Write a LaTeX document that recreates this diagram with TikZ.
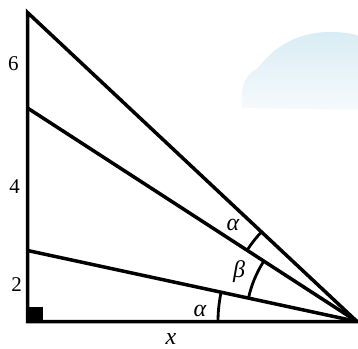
\documentclass[tikz,border=0pt]{standalone}
\usepackage{fontspec}
\setmainfont{Liberation Serif}
\definecolor{cloudtop}{HTML}{D9ECF4}
\definecolor{cloudbot}{HTML}{F6FAFC}
\begin{document}
\begin{tikzpicture}[x=1pt,y=1pt,
  edge/.style={line width=3.5pt},
  anglearc/.style={line width=2.8pt},
  num/.style={font=\fontsize{21}{21}\selectfont, inner sep=0pt},
  greek/.style={font=\fontsize{24}{24}\selectfont\itshape, inner sep=0pt}]
\useasboundingbox (0,0) rectangle (358,348);
% cloud
\shade[top color=cloudtop, bottom color=cloudbot]
  (242,240) .. controls (240,263) and (245,273) .. (258,280)
  .. controls (275,303) and (300,316) .. (330,316)
  .. controls (345,316) and (355,314) .. (358,312)
  -- (358,238) -- cycle;
% points
\coordinate (O) at (357,26.5);
\coordinate (A) at (27.5,26.5);
\coordinate (T1) at (27.5,335.5);
\coordinate (T2) at (27.5,240);
\coordinate (T3) at (27.5,97.5);
% right angle
\fill (A) rectangle ++(15,15);
% triangle
\draw[edge, line join=miter] (O) -- (A) -- (T1) -- cycle;
\draw[edge] (T2) -- (O);
\draw[edge] (T3) -- (O);
% arcs
\draw[anglearc] ([shift={(180:139)}]O) arc[start angle=180, end angle=167.84, radius=139];
\draw[anglearc] ([shift={(167.84:111)}]O) arc[start angle=167.84, end angle=147.06, radius=111];
\draw[anglearc] ([shift={(147.06:131)}]O) arc[start angle=147.06, end angle=136.84, radius=131];
% labels
\node[greek] (a1) at (200,37) {α};
\node[greek] (b1) at (239,76) {β};
\node[greek] (a2) at (233,123) {α};
\node[greek, anchor=base] (xl) at (171,4) {x};
\node[num] (n6) at (13.5,284.5) {6};
\node[num] (n4) at (14.5,161.5) {4};
\node[num] (n2) at (16.5,63) {2};
\end{tikzpicture}
\end{document}
